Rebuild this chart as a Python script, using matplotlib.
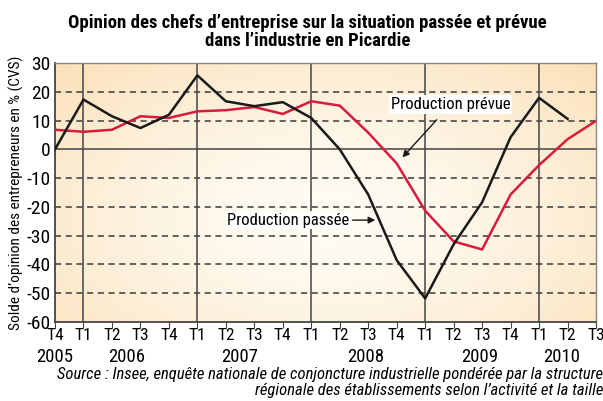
import numpy as np
import matplotlib.pyplot as plt

FONT = ['Roboto Condensed', 'Roboto', 'DejaVu Sans']
plt.rcParams['font.family'] = FONT

quarters = ['T4', 'T1', 'T2', 'T3', 'T4', 'T1', 'T2', 'T3', 'T4', 'T1',
            'T2', 'T3', 'T4', 'T1', 'T2', 'T3', 'T4', 'T1', 'T2', 'T3']
years = ['2005', '2006', '2007', '2008', '2009', '2010']
year_pos = [0, 2.5, 6.5, 10.9, 14.9, 17.8]

# solde d'opinion (CVS)
passee = [0, 17.3, 11.5, 7.4, 12.0, 25.7, 16.7, 15.0, 16.4, 10.9,
          0.0, -15.7, -38.5, -51.8, -33.0, -18.4, 4.2, 17.9, 10.6]
prevue = [6.8, 6.1, 6.8, 11.5, 10.9, 13.2, 13.6, 14.7, 12.3, 16.7,
          15.2, 5.8, -4.9, -21.3, -32.0, -34.8, -15.7, -5.5, 3.5, 9.9]

fig = plt.figure(figsize=(6.03, 4.01), dpi=100)
ax = fig.add_axes([55 / 603, 1 - 322 / 401, 541 / 603, 259 / 401])

n = len(quarters)
ax.set_xlim(0, n - 1)
ax.set_ylim(-60, 30)

# background gradient (peach on the edges, pale in the middle)
gx, gy = np.meshgrid(np.linspace(0, 1, 300), np.linspace(0, 1, 200))
d = np.sqrt(((gx - 0.5) / 0.75) ** 2 + ((gy - 0.6) / 0.9) ** 2)
d = np.clip(d, 0, 1) ** 1.5
c_in = np.array([1.0, 0.988, 0.96])
c_out = np.array([0.985, 0.87, 0.70])
img = c_in + (c_out - c_in) * d[..., None]
ax.imshow(img, extent=[0, n - 1, -60, 30], aspect='auto', origin='upper', zorder=0)

for y in [-50, -40, -30, -20, -10, 10, 20]:
    ax.axhline(y, color='#3a3a3a', lw=1.1, ls=(0, (4, 3)), zorder=1)
ax.axhline(0, color='#444444', lw=1.1, zorder=1)
for x in [1, 5, 9, 13, 17]:
    ax.axvline(x, color='#444444', lw=1.1, zorder=1)

ax.plot(range(len(prevue)), prevue, color='#d81b3c', lw=1.8, zorder=3)
ax.plot(range(len(passee)), passee, color='#1a1a1a', lw=1.8, zorder=4)

ax.annotate('Production prévue', xy=(12.2, -2.8), xytext=(13.9, 15.6),
            ha='center', va='center', fontsize=12,
            bbox=dict(boxstyle='square,pad=0.1', fc='white', ec='none'),
            arrowprops=dict(arrowstyle='-|>', color='#1a1a1a', lw=1,
                            shrinkA=6, shrinkB=0, mutation_scale=10),
            zorder=5)
ax.annotate('Production passée', xy=(11.25, -24.6), xytext=(6.05, -24.6),
            ha='left', va='center', fontsize=12,
            bbox=dict(boxstyle='square,pad=0.1', fc='white', ec='none'),
            arrowprops=dict(arrowstyle='-|>', color='#1a1a1a', lw=1,
                            shrinkA=1, shrinkB=0, mutation_scale=10),
            zorder=5)

ax.set_yticks(range(-60, 31, 10))
ax.set_yticklabels([str(v) for v in range(-60, 31, 10)], fontsize=14)
ax.set_xticks(range(n))
ax.set_xticklabels(quarters, fontsize=12.5)
ax.tick_params(axis='y', length=0, pad=3)
ax.tick_params(axis='x', length=4, direction='out', pad=0, color='#444444')
for i, yr in enumerate(years):
    ax.text(year_pos[i], -72, yr, ha='center', va='center', fontsize=13.5)

for s in ['left', 'bottom']:
    ax.spines[s].set_color('#444444')
    ax.spines[s].set_linewidth(1.3)
for s in ['top', 'right']:
    ax.spines[s].set_color('#888888')
    ax.spines[s].set_linewidth(1)

ax.set_ylabel("Solde d\u2019opinion des entrepreneurs en % (CVS)", fontsize=11, labelpad=2)

fig.text(0.51, 1 - 32 / 401, "Opinion des chefs d\u2019entreprise sur la situation passée et prévue\n"
         "dans l\u2019industrie en Picardie", ha='center', va='center',
         fontsize=13.5, fontweight='bold', linespacing=0.95)

fig.text(1.0, 1 - 375 / 401,
         "Source : Insee, enquête nationale de conjoncture industrielle pondérée par la structure",
         ha='right', va='center', fontsize=12, style='italic')
fig.text(1.0, 1 - 390 / 401,
         "régionale des établissements selon l\u2019activité et la taille",
         ha='right', va='center', fontsize=12, style='italic')

fig.savefig('out.png', dpi=100)
